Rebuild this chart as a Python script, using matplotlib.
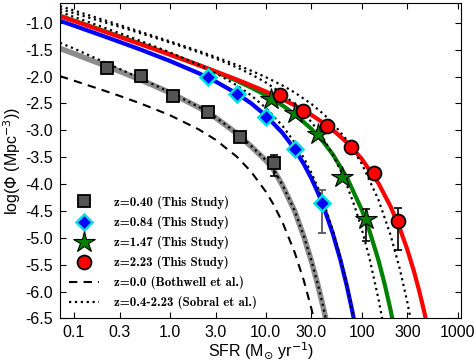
import os
import numpy as np
import matplotlib
matplotlib.use('Agg')
import matplotlib.pyplot as plt
from matplotlib.font_manager import FontProperties

plt.rcParams['font.family'] = ['Liberation Sans', 'DejaVu Sans']

# ---- fitted curves ----
gray_sfr = [0.0715, 0.1, 0.2, 0.3, 0.5, 1, 2, 3, 5, 7, 10, 12, 15, 20, 25, 30, 35, 40, 45]
gray_phi = [-1.477, -1.575, -1.780, -1.903, -2.064, -2.300, -2.574, -2.766, -3.060, -3.295,
            -3.560, -3.725, -4.030, -4.500, -4.980, -5.440, -5.880, -6.310, -6.730]

blue_sfr = [0.0715, 0.1, 0.2, 0.3, 0.5, 1, 2, 3, 5, 7, 10, 15, 20, 25, 30, 35, 40, 50, 60, 70, 80, 90]
blue_phi = [-0.963, -1.054, -1.244, -1.357, -1.502, -1.710, -1.939, -2.092, -2.317, -2.495, -2.723,
            -3.052, -3.349, -3.630, -3.899, -4.161, -4.417, -4.918, -5.408, -5.890, -6.367, -6.839]

green_sfr = [0.0715, 0.1, 0.2, 0.3, 0.5, 1, 2, 3, 5, 7, 10, 15, 20, 30, 40, 50, 70, 100, 120, 150,
             175, 200, 225, 250]
green_phi = [-0.870, -0.960, -1.145, -1.254, -1.393, -1.586, -1.786, -1.911, -2.080, -2.203, -2.348,
             -2.540, -2.700, -2.976, -3.220, -3.447, -3.873, -4.472, -4.856, -5.420, -5.881, -6.337,
             -6.788, -7.236]

red_sfr = [0.0715, 0.1, 0.2, 0.3, 0.5, 1, 2, 3, 5, 7, 10, 15, 20, 30, 40, 50, 70, 100, 150, 200,
           250, 300, 350, 400, 450, 500]
red_phi = [-0.875, -0.966, -1.154, -1.264, -1.403, -1.594, -1.788, -1.905, -2.057, -2.162, -2.279,
           -2.423, -2.536, -2.715, -2.863, -2.993, -3.223, -3.529, -3.988, -4.414, -4.824, -5.222,
           -5.613, -5.998, -6.378, -6.756]

bothwell_sfr = [0.0715, 0.1, 0.2, 0.3, 0.5, 1, 2, 3, 5, 7, 10, 12, 15, 20, 25, 30, 35]
bothwell_phi = [-1.993, -2.077, -2.254, -2.361, -2.504, -2.719, -2.983, -3.176, -3.492, -3.765,
                -4.139, -4.375, -4.717, -5.267, -5.800, -6.324, -6.842]

sob040_sfr = gray_sfr
sob040_phi = [-1.372, -1.480, -1.720, -1.860, -2.040, -2.290, -2.565, -2.757, -3.052, -3.287,
              -3.552, -3.717, -4.022, -4.492, -4.972, -5.432, -5.872, -6.302, -6.722]

sob084_sfr = blue_sfr
sob084_phi = [-0.800, -0.891, -1.082, -1.195, -1.341, -1.550, -1.781, -1.936, -2.165, -2.347, -2.581,
              -2.920, -3.227, -3.517, -3.796, -4.068, -4.334, -4.854, -5.363, -5.865, -6.361, -6.853]

sob147_sfr = [0.0715, 0.1, 0.2, 0.3, 0.5, 1, 2, 3, 5, 7, 10, 15, 20, 30, 40, 50, 60, 70, 85, 100,
              120, 150, 175]
sob147_phi = [-0.745, -0.822, -0.982, -1.076, -1.197, -1.367, -1.549, -1.665, -1.830, -1.955, -2.110,
              -2.324, -2.511, -2.847, -3.156, -3.451, -3.737, -4.015, -4.425, -4.829, -5.358, -6.140,
              -6.786]

sob223_sfr = [0.0715, 0.1, 0.2, 0.3, 0.5, 1, 2, 3, 5, 7, 10, 15, 20, 30, 40, 50, 70, 100, 150, 200,
              250, 300, 350]
sob223_phi = [-0.690, -0.772, -0.943, -1.043, -1.170, -1.345, -1.526, -1.636, -1.784, -1.889, -2.011,
              -2.168, -2.296, -2.511, -2.697, -2.867, -3.181, -3.616, -4.295, -4.944, -5.578, -6.202,
              -6.819]

# ---- measured points ----
z040_sfr = [0.220, 0.501, 1.09, 2.47, 5.43, 12.1]
z040_phi = [-1.849, -1.987, -2.359, -2.669, -3.123, -3.607]
z040_err = (0.248, 0.143)   # (down, up) on last point

z084_sfr = [2.47, 5.01, 9.98, 20.0, 39.0]
z084_phi = [-2.017, -2.324, -2.750, -3.346, -4.354]
z084_err = (0.549, 0.242)

z147_sfr = [11.3, 20.0, 35.0, 63.1, 110.0]
z147_phi = [-2.417, -2.678, -3.073, -3.860, -4.656]
z147_err = (0.409, 0.200)

z223_sfr = [14.0, 24.7, 43.7, 77.5, 135.5, 241.0]
z223_phi = [-2.346, -2.641, -2.913, -3.315, -3.799, -4.687]
z223_err = (0.546, 0.242)

xticks = [0.1, 0.3, 1.0, 3.0, 10.0, 30.0, 100, 300, 1000]
xticklabels = ['0.1', '0.3', '1.0', '3.0', '10.0', '30.0', '100', '300', '1000']
yticks = [-1.0, -1.5, -2.0, -2.5, -3.0, -3.5, -4.0, -4.5, -5.0, -5.5, -6.0, -6.5]

fig = plt.figure(figsize=(4.74, 3.62), dpi=100)
ax = fig.add_axes([0.1266, 0.1202, 0.8470, 0.8704])
ax.set_xscale('log')

# curves
ax.plot(gray_sfr, gray_phi, color='#8c8c8c', lw=4, zorder=2)
ax.plot(blue_sfr, blue_phi, color='#0000ff', lw=3, zorder=2)
ax.plot(green_sfr, green_phi, color='#008000', lw=3, zorder=2)
ax.plot(red_sfr, red_phi, color='#ff0000', lw=3, zorder=2)
ax.plot(bothwell_sfr, bothwell_phi, color='k', ls='--', lw=1.5, dashes=(4, 3), zorder=3)
for s, p in [(sob040_sfr, sob040_phi), (sob084_sfr, sob084_phi),
             (sob147_sfr, sob147_phi), (sob223_sfr, sob223_phi)]:
    ax.plot(s, p, color='k', ls=':', lw=1.6, zorder=3)

# data points
def points(sfr, phi, err, ecol, **kw):
    ax.errorbar([sfr[-1]], [phi[-1]], yerr=[[err[0]], [err[1]]], fmt='none',
                ecolor=ecol, elinewidth=1.2, capsize=3, capthick=1.2, zorder=4)
    return ax.plot(sfr, phi, ls='none', zorder=5, **kw)[0]

h1 = points(z040_sfr, z040_phi, z040_err, 'k', marker='s', ms=8, mfc='#555555', mec='k', mew=1.3)
h2 = points(z084_sfr, z084_phi, z084_err, '0.3', marker='D', ms=8, mfc='#0000ff', mec='#00e0e0', mew=1.8)
h3 = points(z147_sfr, z147_phi, z147_err, 'k', marker='*', ms=16, mfc='#008000', mec='k', mew=0.8)
h4 = points(z223_sfr, z223_phi, z223_err, 'k', marker='o', ms=10, mfc='#ff0000', mec='k', mew=1.3)
h5, = ax.plot([], [], color='k', ls='--', lw=1.5, dashes=(4, 3))
h6, = ax.plot([], [], color='k', ls=':', lw=1.6)

ax.set_xlim(0.0715, 1100)
ax.set_ylim(-6.5, -0.64)
ax.set_xticks(xticks)
ax.set_xticklabels(xticklabels)
ax.set_yticks(yticks)
ax.set_yticklabels(['%.1f' % v for v in yticks])
ax.minorticks_off()
ax.tick_params(direction='in', top=True, right=True, length=4, width=0.8, labelsize=11.5, pad=5)

ax.set_xlabel(r'SFR (M$_{\odot}$ yr$^{-1}$)', fontsize=11.5, labelpad=0)
ax.set_ylabel(r'log($\Phi$ (Mpc$^{-3}$))', fontsize=11.5, labelpad=2)

# legend in Computer Modern bold (ships with matplotlib)
cmb = os.path.join(matplotlib.get_data_path(), 'fonts', 'ttf', 'cmb10.ttf')
if os.path.exists(cmb):
    prop = FontProperties(fname=cmb, size=9.3)
else:
    prop = FontProperties(family='DejaVu Serif', weight='bold', size=8.5)
labels = ['z=0.40 (This Study)', 'z=0.84 (This Study)', 'z=1.47 (This Study)',
          'z=2.23 (This Study)', 'z=0.0 (Bothwell et al.)', 'z=0.4-2.23 (Sobral et al.)']
ax.legend([h1, h2, h3, h4, h5, h6], labels, loc='lower left', frameon=False, prop=prop,
          numpoints=1, handlelength=2.3, handletextpad=1.2, labelspacing=0.55,
          borderaxespad=0.2, borderpad=0.5)

fig.savefig('out.png', dpi=100)
